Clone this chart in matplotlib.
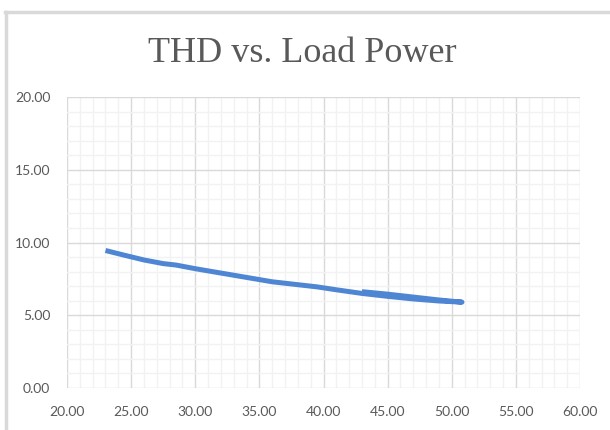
import numpy as np
import matplotlib.pyplot as plt
from matplotlib.lines import Line2D
from matplotlib.ticker import MultipleLocator, FormatStrFormatter

# ----- data -----
load_power = [23.0, 24.5, 26.0, 27.5, 28.5, 30.0, 32.0, 34.0, 36.0, 38.0,
              39.5, 41.0, 43.0, 45.0, 47.0, 49.0, 50.8,
              49.0, 47.0, 45.0, 43.0]
thd = [9.45, 9.12, 8.80, 8.55, 8.45, 8.20, 7.90, 7.60, 7.30, 7.10,
       6.95, 6.75, 6.50, 6.30, 6.12, 5.98, 5.90,
       6.05, 6.25, 6.45, 6.62]

x_limits = (20, 60)
y_limits = (0, 20)

GRAY_TXT = "#595959"

fig = plt.figure(figsize=(6.1, 4.3), dpi=100)
ax = fig.add_axes([67 / 610, 42 / 430, 513 / 610, 291 / 430])

ax.plot(load_power, thd, color="#4F86D4", linewidth=3.6,
        solid_capstyle="butt", solid_joinstyle="round", zorder=3)

ax.set_xlim(*x_limits)
ax.set_ylim(*y_limits)
ax.xaxis.set_major_locator(MultipleLocator(5))
ax.xaxis.set_minor_locator(MultipleLocator(1))
ax.yaxis.set_major_locator(MultipleLocator(5))
ax.yaxis.set_minor_locator(MultipleLocator(1))
ax.xaxis.set_major_formatter(FormatStrFormatter("%.2f"))
ax.yaxis.set_major_formatter(FormatStrFormatter("%.2f"))

ax.grid(which="major", color="#D9D9D9", linewidth=1.0, zorder=0)
ax.grid(which="minor", color="#F2F2F2", linewidth=1.0, zorder=0)
ax.set_axisbelow(True)
for s in ax.spines.values():
    s.set_visible(False)

ax.tick_params(which="both", length=0)
ax.tick_params(axis="x", pad=13, labelsize=10, labelcolor=GRAY_TXT)
ax.tick_params(axis="y", pad=12, labelsize=10, labelcolor=GRAY_TXT)
for lab in ax.get_xticklabels() + ax.get_yticklabels():
    lab.set_family(["Lato", "DejaVu Sans"])

fig.text(0.5 - 3 / 610, 1 - 53 / 430, "THD vs. Load Power", ha="center", va="center",
         fontsize=26, color=GRAY_TXT, family=["Liberation Serif"])

# partial chart frame (top and left edges)
fig.add_artist(Line2D([5 / 610, 1.0], [1 - 12 / 430, 1 - 12 / 430],
                      transform=fig.transFigure, color="#D9D9D9", linewidth=2.5))
fig.add_artist(Line2D([6 / 610, 6 / 610], [0.0, 1 - 12 / 430],
                      transform=fig.transFigure, color="#D9D9D9", linewidth=2.5))

fig.savefig("out.png", dpi=100)
